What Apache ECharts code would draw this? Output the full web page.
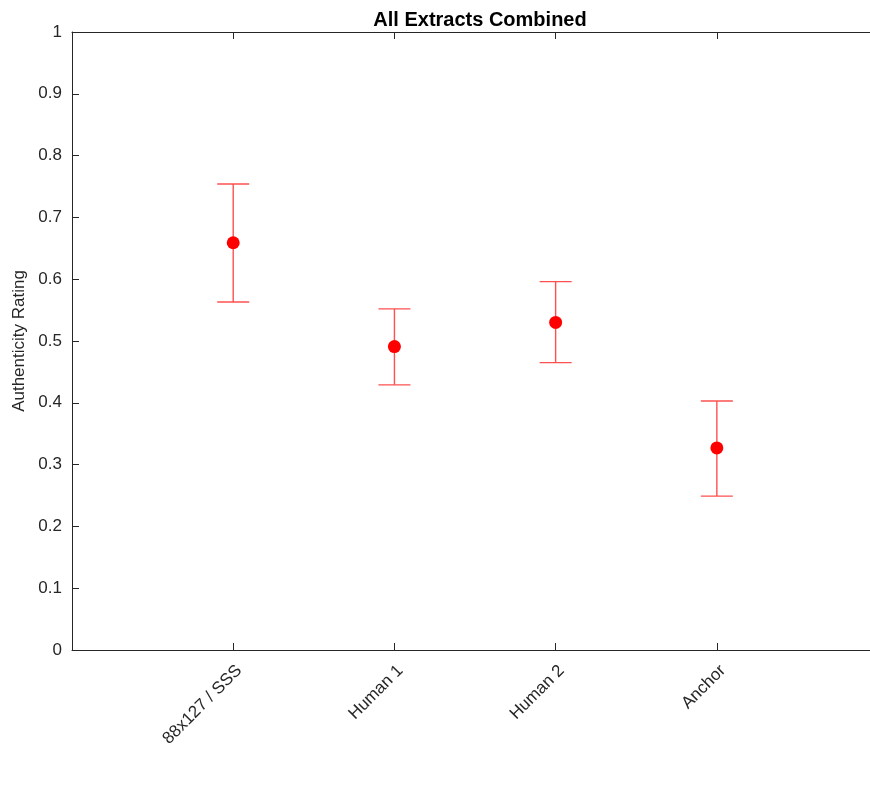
<!DOCTYPE html>
<html>
<head>
<meta charset="utf-8">
<script src="https://cdn.jsdelivr.net/npm/echarts@6/dist/echarts.min.js"></script>
<style>
  html, body { margin: 0; padding: 0; background: #fff; }
  #view { width: 870px; height: 785px; }
</style>
</head>
<body>
<div id="view"></div>
<script>
var categories = ['88x127 / SSS', 'Human 1', 'Human 2', 'Anchor'];
var positions = [1, 2, 3, 4];
var means = [0.659, 0.491, 0.530, 0.327];
var upper = [0.754, 0.552, 0.596, 0.403];
var lower = [0.563, 0.429, 0.465, 0.249];
var yTicks = [0, 0.1, 0.2, 0.3, 0.4, 0.5, 0.6, 0.7, 0.8, 0.9, 1];

var font = '"Liberation Sans", Arial, sans-serif';
var axisColor = '#262626';
var red = '#ff0000';

var myChart = echarts.init(document.getElementById('view'));

var pointData = positions.map(function (p, i) { return [p, means[i]]; });
var barData = positions.map(function (p, i) { return [p, lower[i], upper[i]]; });

// plot box runs past the right edge of the picture, so the axis stops at ~4.95
var xMax = 4.95;

option = {
    animation: false,
    title: {
        text: 'All Extracts Combined',
        left: 475,
        top: 5,
        textAlign: 'center',
        textStyle: { fontFamily: font, fontSize: 20, fontWeight: 'bold', color: '#000' }
    },
    grid: { left: 72, right: 0, top: 32, bottom: 135, containLabel: false },
    xAxis: [{
        type: 'value',
        min: 0,
        max: xMax,
        position: 'bottom',
        splitLine: { show: false },
        axisLine: { lineStyle: { color: axisColor, width: 1 } },
        axisTick: { inside: true, length: 7, customValues: positions, lineStyle: { color: axisColor } },
        axisLabel: {
            customValues: positions,
            rotate: 45,
            margin: 12,
            verticalAlign: 'top',
            fontFamily: font,
            fontSize: 17,
            color: axisColor,
            formatter: function (v) { return categories[positions.indexOf(v)] || ''; }
        }
    }, {
        type: 'value',
        min: 0,
        max: xMax,
        position: 'top',
        splitLine: { show: false },
        axisLine: { lineStyle: { color: axisColor, width: 1 } },
        axisTick: { inside: true, length: 7, customValues: positions, lineStyle: { color: axisColor } },
        axisLabel: { show: false }
    }],
    yAxis: {
        type: 'value',
        min: 0,
        max: 1,
        interval: 0.1,
        name: 'Authenticity Rating',
        nameLocation: 'middle',
        nameGap: 42,
        nameTextStyle: { fontFamily: font, fontSize: 17, color: axisColor },
        splitLine: { show: false },
        axisLine: { show: true, lineStyle: { color: axisColor, width: 1 } },
        axisTick: { inside: true, length: 7, lineStyle: { color: axisColor } },
        axisLabel: {
            margin: 10,
            fontFamily: font,
            fontSize: 17,
            color: axisColor,
            formatter: function (v) {
                var t = yTicks.filter(function (k) { return Math.abs(k - v) < 1e-9; })[0];
                return t === undefined ? '' : String(t);
            }
        }
    },
    series: [{
        type: 'custom',
        xAxisIndex: 0,
        data: barData,
        renderItem: function (params, api) {
            var x = api.value(0);
            var lo = api.coord([x, api.value(1)]);
            var hi = api.coord([x, api.value(2)]);
            var cap = 16;
            var style = { stroke: '#ff5050', lineWidth: 1.4, fill: null };
            return {
                type: 'group',
                children: [
                    { type: 'line', shape: { x1: lo[0], y1: lo[1], x2: hi[0], y2: hi[1] }, style: style },
                    { type: 'line', shape: { x1: hi[0] - cap, y1: hi[1], x2: hi[0] + cap, y2: hi[1] }, style: style },
                    { type: 'line', shape: { x1: lo[0] - cap, y1: lo[1], x2: lo[0] + cap, y2: lo[1] }, style: style }
                ]
            };
        },
        z: 2
    }, {
        type: 'scatter',
        xAxisIndex: 0,
        data: pointData,
        symbol: 'circle',
        symbolSize: 13,
        itemStyle: { color: red, opacity: 1 },
        z: 3
    }]
};

myChart.setOption(option);
</script>
</body>
</html>
